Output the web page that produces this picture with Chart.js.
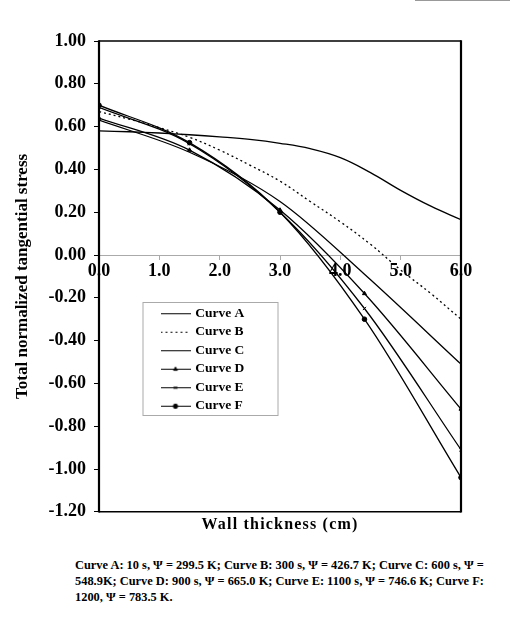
<!DOCTYPE html>
<html><head><meta charset="utf-8">
<script src="https://cdn.jsdelivr.net/npm/chart.js@4"></script>
<style>
html,body{margin:0;padding:0;background:#fff;width:510px;height:622px;overflow:hidden;}
#wrap{position:absolute;left:0;top:0;width:510px;height:540px;}
#cap{position:absolute;left:75px;top:557px;width:435px;font:bold 12.4px "Liberation Serif","Times New Roman",serif;line-height:16px;color:#000;white-space:nowrap;}
#topline{position:absolute;left:415px;top:0;width:95px;height:1px;background:#999;}
</style></head><body>
<div id="topline"></div>
<div id="wrap"><canvas id="c" width="510" height="540"></canvas></div>
<div id="cap">Curve A: 10 s, &Psi; = 299.5 K; Curve B: 300 s, &Psi; = 426.7 K; Curve C: 600 s, &Psi; =<br>548.9K; Curve D: 900 s, &Psi; = 665.0 K; Curve E: 1100 s, &Psi; = 746.6 K; Curve F:<br>1200, &Psi; = 783.5 K.</div>
<script>
const curveLabels = ['Curve A','Curve B','Curve C','Curve D','Curve E','Curve F'];
const xDense = [0,0.5,1,1.5,2,2.5,3,3.5,4,4.5,5,5.5,6];
const curveA = [0.58,0.576,0.57,0.562,0.552,0.54,0.522,0.497,0.455,0.385,0.302,0.228,0.165];
const curveB = [0.67,0.635,0.595,0.55,0.49,0.42,0.345,0.25,0.155,0.05,-0.07,-0.18,-0.30];
const xMarked = [0,1.5,3.0,4.4,6.0];
const curveC = [0.63,0.48,0.25,-0.09,-0.51];
const curveD = [0.64,0.49,0.21,-0.18,-0.72];
const curveE = [0.69,0.52,0.20,-0.25,-0.91];
const curveF = [0.70,0.525,0.20,-0.30,-1.04];
const yMin = -1.2, yMax = 1.0, yStep = 0.2;
const xMin = 0, xMax = 6, xStep = 1;

const FONT = '"Liberation Serif","Times New Roman",serif';
Chart.defaults.font.family = FONT;
Chart.defaults.color = '#000';

const pts = (xs, ys) => xs.map((x, i) => ({x, y: ys[i]}));
const markerStyles = [false, false, false, 'triangle', 'crossRot', 'circle'];
const dashes = [[], [2, 3], [], [], [], []];
const seriesY = [curveA, curveB, curveC, curveD, curveE, curveF];
const seriesX = [xDense, xDense, xMarked, xMarked, xMarked, xMarked];

function sample(style, dash) {
  const c = document.createElement('canvas');
  c.width = 30; c.height = 10;
  const g = c.getContext('2d');
  g.strokeStyle = '#000'; g.fillStyle = '#000'; g.lineWidth = 1;
  g.setLineDash(dash);
  g.beginPath(); g.moveTo(0, 5.5); g.lineTo(30, 5.5); g.stroke();
  g.setLineDash([]);
  if (style) Chart.helpers.drawPoint(g, {pointStyle: style, radius: 2.2, borderWidth: 1, rotation: 0}, 15, 5.5);
  return c;
}
const samples = markerStyles.map((s, i) => sample(s, dashes[i]));

const datasets = curveLabels.map((label, i) => ({
  label,
  data: pts(seriesX[i], seriesY[i]),
  showLine: true,
  borderColor: '#000',
  borderWidth: 1.3,
  borderDash: dashes[i],
  tension: i < 2 ? 0.4 : 0,
  cubicInterpolationMode: i < 2 ? 'default' : 'monotone',
  pointRadius: markerStyles[i] ? 2.3 : 0,
  pointStyle: markerStyles[i] || 'circle',
  pointBackgroundColor: '#000',
  pointBorderColor: '#000',
  pointBorderWidth: 1
}));

const placeLegend = {
  id: 'placeLegend',
  afterLayout(chart) {
    const lg = chart.legend, a = chart.chartArea;
    lg.left = a.left + 58.5;
    lg.top = a.top + 260.5;
    lg.right = a.right;
    lg.bottom = a.bottom;
  },
  beforeDraw(chart) {
    const tb = chart.titleBlock;
    if (tb && !tb._spaced) {
      const orig = tb.draw;
      tb.draw = function () {
        const c = this.ctx;
        c.save();
        c.letterSpacing = '1.2px';
        orig.apply(this, arguments);
        c.restore();
      };
      tb._spaced = true;
    }
  }
};
const frame = {
  id: 'frame',
  afterDraw(chart) {
    const {ctx, chartArea: a} = chart;
    ctx.save();
    ctx.strokeStyle = '#000';
    ctx.lineWidth = 1.6;
    ctx.beginPath();
    ctx.moveTo(a.left, a.top); ctx.lineTo(a.right, a.top);
    ctx.moveTo(a.left, a.bottom); ctx.lineTo(a.right, a.bottom);
    ctx.stroke();
    ctx.lineWidth = 2.2;
    ctx.beginPath();
    ctx.moveTo(a.left, a.top - 0.8); ctx.lineTo(a.left, a.bottom + 0.8);
    ctx.moveTo(a.right, a.top - 0.8); ctx.lineTo(a.right, a.bottom + 0.8);
    ctx.stroke();
    const lg = chart.legend;
    ctx.strokeStyle = '#aaa'; ctx.lineWidth = 1;
    ctx.strokeRect(lg.left - 14.5, lg.top + 1, 135, 113);
    ctx.restore();
  }
};

new Chart(document.getElementById('c'), {
  type: 'scatter',
  data: {datasets},
  plugins: [placeLegend, frame],
  options: {
    responsive: false,
    animation: false,
    layout: {padding: {top: 41, right: 49, left: 0, bottom: 0}},
    scales: {
      x: {
        type: 'linear',
        position: {y: 0},
        min: xMin, max: xMax,
        ticks: {stepSize: xStep, callback: v => Number(v).toFixed(1), font: {size: 18, weight: 'bold'}, color: '#000', padding: 2, maxRotation: 0},
        grid: {display: true, drawOnChartArea: false, drawTicks: true, tickLength: 4, color: '#aaa'},
        border: {display: true, color: '#aaa', width: 1},
        afterFit(s) { s.paddingLeft = 0; s.paddingRight = 0; }
      },
      y: {
        type: 'linear',
        position: 'left',
        min: yMin, max: yMax,
        ticks: {stepSize: yStep, callback: v => Number(v).toFixed(2), font: {size: 18, weight: 'bold'}, color: '#000', padding: 8},
        grid: {display: true, drawOnChartArea: false, drawTicks: true, tickLength: 5, color: '#000'},
        border: {display: false},
        title: {display: true, text: 'Total normalized tangential stress', font: {size: 17, weight: 'bold'}, color: '#000', padding: {top: 12, bottom: 0}},
        afterFit(s) { s.width = 99; s.paddingTop = 0; s.paddingBottom = 0; }
      }
    },
    plugins: {
      legend: {
        display: true,
        position: 'chartArea',
        align: 'start',
        labels: {
          usePointStyle: true,
          pointStyleWidth: 26,
          padding: 5,
          color: '#000',
          font: {size: 13.5, weight: 'bold'},
          generateLabels: chart => chart.data.datasets.map((ds, i) => ({
            text: ds.label, pointStyle: samples[i], datasetIndex: i,
            fontColor: '#000', lineWidth: 0, strokeStyle: 'rgba(0,0,0,0)', fillStyle: 'rgba(0,0,0,0)', hidden: false
          }))
        }
      },
      title: {
        display: true, position: 'bottom', fullSize: false,
        text: 'Wall thickness (cm)',
        font: {size: 16, weight: 'bold'}, color: '#000',
        padding: {top: 3, bottom: 6}
      },
      tooltip: {enabled: false}
    }
  }
});
</script>
</body></html>
